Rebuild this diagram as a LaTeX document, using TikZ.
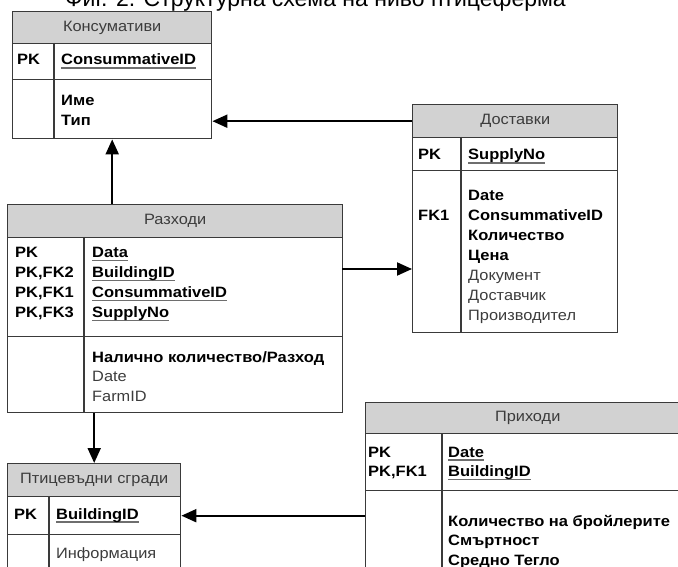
\documentclass[tikz,border=0pt]{standalone}
\usepackage{fontspec}
\setmainfont{Liberation Sans}[UprightFeatures={FakeStretch=1.09}, BoldFeatures={FakeStretch=1.1}]
\newfontfamily\capfont{Liberation Sans}
\usetikzlibrary{arrows.meta}

\definecolor{hdrfill}{HTML}{D2D2D2}
\definecolor{edge}{HTML}{3A3A3A}
\definecolor{plain}{HTML}{3C3C3C}
\definecolor{ulgray}{HTML}{6E6E6E}

% underlined primary-key field
\newcommand\pkul[1]{\setbox0\hbox{#1}\rlap{\color{ulgray}\rule[-3.6pt]{\wd0}{1.3pt}}\box0}

\tikzset{
  sect/.style={draw=edge, line width=1.4pt, inner sep=0pt, anchor=north west, rectangle},
  hdr/.style={sect, fill=hdrfill, text=plain, font=\fontsize{15}{18}\selectfont},
  colsep/.style={draw=edge, line width=1.4pt},
  txt/.style={anchor=base west, inner sep=0pt, text=plain, font=\fontsize{15}{18}\selectfont},
  btxt/.style={anchor=base west, inner sep=0pt, text=black, font=\fontsize{15}{18}\selectfont\bfseries},
  rel/.style={line width=2pt, draw=black, -{Triangle[length=15pt,width=13pt]}},
}

\begin{document}
\begin{tikzpicture}[x=1pt, y=-1pt]
\useasboundingbox (0,0) rectangle (678,567);
\clip (0,0) rectangle (678,567);

% caption
\node[anchor=base west, inner sep=0pt, font=\capfont\fontsize{23}{26}\selectfont] (caption) at (65,7)
  {Фиг. 2. Структурна схема на ниво птицеферма};

% --- Консумативи ---
\node[hdr, minimum width=199pt, minimum height=32pt] (kons-h) at (12,11) {Консумативи};
\node[sect, minimum width=199pt, minimum height=36pt] (kons-pk) at (12,43) {};
\node[sect, minimum width=199pt, minimum height=59pt] (kons-at) at (12,79) {};
\draw[colsep] (54,43) -- (54,138);
\node[btxt] (kons-k1) at (17,65) {PK};
\node[btxt] (kons-f1) at (61,65) {\pkul{ConsummativeID}};
\node[btxt] (kons-a1) at (61,106) {Име};
\node[btxt] (kons-a2) at (61,125.5) {Тип};

% --- Доставки ---
\node[hdr, minimum width=205pt, minimum height=33pt] (dost-h) at (412,104) {Доставки};
\node[sect, minimum width=205pt, minimum height=33pt] (dost-pk) at (412,137) {};
\node[sect, minimum width=205pt, minimum height=162pt] (dost-at) at (412,170) {};
\draw[colsep] (461,137) -- (461,332);
\node[btxt] (dost-k1) at (418,160) {PK};
\node[btxt] (dost-f1) at (468,160) {\pkul{SupplyNo}};
\node[btxt] (dost-k2) at (418,220.5) {FK1};
\foreach \s [count=\i from 0] in {Date, ConsummativeID, Количество, Цена}
  \node[btxt] (dost-b\i) at (468,200.5+20*\i) {\s};
\foreach \s [count=\i from 4] in {Документ, Доставчик, Производител}
  \node[txt] (dost-p\i) at (468,200.5+20*\i) {\s};

% --- Разходи ---
\node[hdr, minimum width=335pt, minimum height=33pt] (razh-h) at (7,204) {Разходи};
\node[sect, minimum width=335pt, minimum height=99pt] (razh-pk) at (7,237) {};
\node[sect, minimum width=335pt, minimum height=76pt] (razh-at) at (7,336) {};
\draw[colsep] (84,237) -- (84,412);
\foreach \s [count=\i from 0] in {PK, {PK,FK2}, {PK,FK1}, {PK,FK3}}
  \node[btxt] (razh-k\i) at (15,257.5+20*\i) {\s};
\foreach \s [count=\i from 0] in {Data, BuildingID, ConsummativeID, SupplyNo}
  \node[btxt] (razh-f\i) at (92,257.5+20*\i) {\pkul{\s}};
\node[btxt] (razh-a0) at (92,362) {Налично количество/Разход};
\node[txt] (razh-a1) at (92,381.5) {Date};
\node[txt] (razh-a2) at (92,401) {FarmID};

% --- Птицевъдни сгради ---
\node[hdr, minimum width=173pt, minimum height=33pt] (ptic-h) at (7,463) {Птицевъдни сгради};
\node[sect, minimum width=173pt, minimum height=38pt] (ptic-pk) at (7,496) {};
\node[sect, minimum width=173pt, minimum height=60pt] (ptic-at) at (7,534) {};
\draw[colsep] (49,496) -- (49,594);
\node[btxt] (ptic-k1) at (14,519) {PK};
\node[btxt] (ptic-f1) at (56,519) {\pkul{BuildingID}};
\node[txt] (ptic-a1) at (56,558) {Информация};

% --- Приходи ---
\node[hdr, minimum width=324pt, minimum height=31pt] (prih-h) at (365,402) {Приходи};
\node[sect, minimum width=324pt, minimum height=57pt] (prih-pk) at (365,433) {};
\node[sect, minimum width=324pt, minimum height=100pt] (prih-at) at (365,490) {};
\draw[colsep] (442,433) -- (442,590);
\node[btxt] (prih-k0) at (368,457) {PK};
\node[btxt] (prih-k1) at (368,476.5) {PK,FK1};
\node[btxt] (prih-f0) at (448,457) {\pkul{Date}};
\node[btxt] (prih-f1) at (448,476.5) {\pkul{BuildingID}};
\foreach \s [count=\i from 0] in {Количество на бройлерите, Смъртност, Средно Тегло}
  \node[btxt] (prih-a\i) at (448,526+19.5*\i) {\s};

% --- relationships ---
\draw[rel] (dost-h.west) -- (dost-h.west -| kons-at.east);
\draw[rel] (kons-at.south |- razh-h.north) -- (kons-at.south);
\coordinate (razh-out) at (342,269);
\draw[rel] (razh-out) -- (razh-out -| dost-at.west);
\draw[rel] (ptic-h.north |- razh-at.south) -- (ptic-h.north);
\draw[rel] (ptic-pk.east -| prih-h.west) -- (ptic-pk.east);
\end{tikzpicture}
\end{document}
